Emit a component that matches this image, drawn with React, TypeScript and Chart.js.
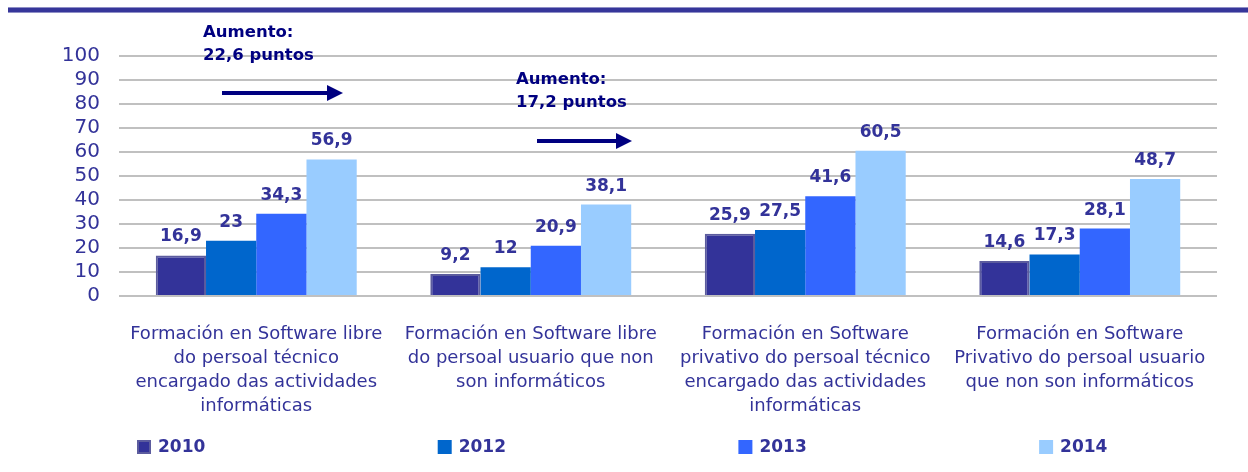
import React, { useEffect, useRef } from 'react';
import { Chart, registerables } from 'chart.js';

Chart.register(...registerables);

const categories: string[][] = [
  ['Formación en Software libre', 'do persoal técnico', 'encargado das actividades', 'informáticas'],
  ['Formación en Software libre', 'do persoal usuario que non', 'son informáticos'],
  ['Formación en Software', 'privativo do persoal técnico', 'encargado das actividades', 'informáticas'],
  ['Formación en Software', 'Privativo do persoal usuario', 'que non son informáticos'],
];
const seriesNames = ['2010', '2012', '2013', '2014'];
const values2010 = [16.9, 9.2, 25.9, 14.6];
const values2012 = [23, 12, 27.5, 17.3];
const values2013 = [34.3, 20.9, 41.6, 28.1];
const values2014 = [56.9, 38.1, 60.5, 48.7];
const yMin = 0;
const yMax = 100;
const yStep = 10;
const annotationTexts: string[][] = [
  ['Aumento:', '22,6 puntos'],
  ['Aumento:', '17,2 puntos'],
];

const seriesColors = ['#333399', '#0066cc', '#3366ff', '#99ccff'];
const FONT = '"DejaVu Sans", Verdana, sans-serif';
const TEXT_COLOR = '#333399';
const NAVY = '#000080';

function fmt(v: number) {
  return String(v).replace('.', ',');
}

const decorPlugin = {
  id: 'decor',
  beforeDraw(chart: any) {
    const ctx = chart.ctx;
    ctx.save();
    ctx.fillStyle = '#8f8fc6';
    ctx.fillRect(8, 7, chart.width - 8, 6);
    ctx.fillStyle = '#36369a';
    ctx.fillRect(8, 8, chart.width - 8, 4);
    ctx.restore();
  },
  afterDatasetsDraw(chart: any) {
    const ctx = chart.ctx;
    ctx.save();
    ctx.font = `bold 17px ${FONT}`;
    ctx.fillStyle = TEXT_COLOR;
    ctx.textAlign = 'center';
    ctx.textBaseline = 'alphabetic';
    chart.data.datasets.forEach((ds: any, di: number) => {
      const meta = chart.getDatasetMeta(di);
      meta.data.forEach((el: any, i: number) => {
        ctx.fillText(fmt(ds.data[i]), el.x, el.y - 14);
      });
    });
    ctx.restore();
  },
  afterDraw(chart: any) {
    const ctx = chart.ctx;
    ctx.save();
    // annotations
    const arrows = [
      { tx: 203, ty: 33, x1: 222, x2: 343, y: 93 },
      { tx: 516, ty: 80, x1: 537, x2: 632, y: 141 },
    ];
    ctx.font = `bold 16.5px ${FONT}`;
    ctx.fillStyle = NAVY;
    ctx.textAlign = 'left';
    ctx.textBaseline = 'middle';
    arrows.forEach((a, k) => {
      annotationTexts[k].forEach((line, li) => ctx.fillText(line, a.tx, a.ty + li * 23));
      ctx.fillRect(a.x1, a.y - 2, a.x2 - a.x1 - 14, 4);
      ctx.beginPath();
      ctx.moveTo(a.x2 - 16, a.y - 8);
      ctx.lineTo(a.x2, a.y);
      ctx.lineTo(a.x2 - 16, a.y + 8);
      ctx.closePath();
      ctx.fill();
    });
    // legend
    const startX = 137;
    const gap = 300.7;
    const ly = 447;
    ctx.font = `bold 17px ${FONT}`;
    seriesNames.forEach((name, i) => {
      const x = startX + i * gap;
      ctx.fillStyle = seriesColors[i];
      ctx.fillRect(x, ly - 7, 14, 14);
      if (i === 0) {
        ctx.strokeStyle = '#5c5c9e';
        ctx.lineWidth = 2;
        ctx.strokeRect(x + 1, ly - 6, 12, 12);
      }
      ctx.fillStyle = TEXT_COLOR;
      ctx.textBaseline = 'middle';
      ctx.fillText(name, x + 21, ly + 1);
    });
    ctx.restore();
  },
};

export default function App() {
  const ref = useRef<HTMLCanvasElement | null>(null);
  useEffect(() => {
    if (!ref.current) return;
    const seriesValues = [values2010, values2012, values2013, values2014];
    const chart = new Chart(ref.current, {
      type: 'bar',
      data: {
        labels: categories,
        datasets: seriesNames.map((name, i) => ({
          label: name,
          data: seriesValues[i],
          backgroundColor: seriesColors[i],
          borderColor: i === 0 ? '#5c5c9e' : seriesColors[i],
          borderWidth: i === 0 ? 2 : 0,
          categoryPercentage: 0.732,
          barPercentage: 1,
        })),
      },
      options: {
        responsive: true,
        maintainAspectRatio: false,
        animation: false,
        layout: { padding: { top: 56, right: 31, bottom: 56, left: 0 } },
        plugins: { legend: { display: false }, tooltip: { enabled: false } },
        scales: {
          x: {
            grid: { display: false },
            border: { display: false },
            afterFit: (s: any) => { s.height = 120; },
            ticks: {
              autoSkip: false,
              maxRotation: 0,
              minRotation: 0,
              padding: 18,
              color: TEXT_COLOR,
              font: { family: FONT, size: 18, lineHeight: 24 / 18 },
            },
          },
          y: {
            min: yMin,
            max: yMax,
            grid: { color: '#c0c0c0', lineWidth: 2, drawTicks: false },
            border: { display: false },
            afterFit: (s: any) => { s.width = 119; },
            ticks: {
              stepSize: yStep,
              autoSkip: false,
              padding: 19,
              color: TEXT_COLOR,
              font: { family: FONT, size: 20 },
            },
          },
        },
      },
      plugins: [decorPlugin],
    });
    return () => chart.destroy();
  }, []);
  return (
    <div style={{ position: 'fixed', left: 0, top: 0, width: 1248, height: 472, background: '#fff' }}>
      <canvas ref={ref} />
    </div>
  );
}
